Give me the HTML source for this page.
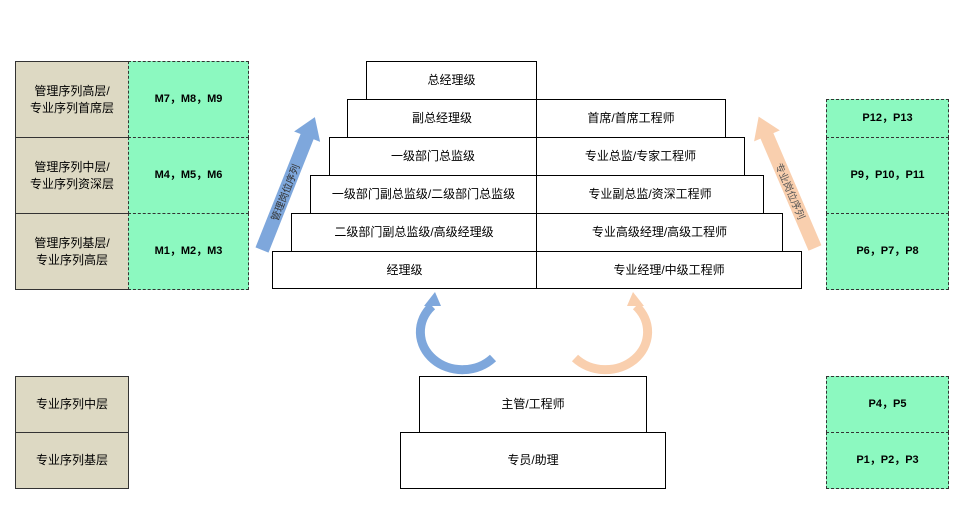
<!DOCTYPE html>
<html><head><meta charset="utf-8"><style>
body{margin:0;width:960px;height:505px;background:#fff;position:relative;overflow:hidden;font-family:"Liberation Sans","Noto Sans CJK SC",sans-serif;font-size:12px;color:#000}
.b{position:absolute;box-sizing:border-box;display:flex;align-items:center;justify-content:center;text-align:center;line-height:17px}
.k{border:1px solid #000;background:#fff}
.t{background:#ddd9c3;border:1px solid #333}
.g{background:#8cf9c0;border:1px dashed #333;font-weight:bold;font-size:11px}
</style></head><body>
<div class="b t" style="left:15px;top:61px;width:114px;height:77px">管理序列高层/<br>专业序列首席层</div>
<div class="b t" style="left:15px;top:137px;width:114px;height:77px">管理序列中层/<br>专业序列资深层</div>
<div class="b t" style="left:15px;top:213px;width:114px;height:77px">管理序列基层/<br>专业序列高层</div>
<div class="b g" style="left:128px;top:61px;width:121px;height:77px">M7，M8，M9</div>
<div class="b g" style="left:128px;top:137px;width:121px;height:77px">M4，M5，M6</div>
<div class="b g" style="left:128px;top:213px;width:121px;height:77px">M1，M2，M3</div>
<div class="b t" style="left:15px;top:376px;width:114px;height:57px">专业序列中层</div>
<div class="b t" style="left:15px;top:432px;width:114px;height:57px">专业序列基层</div>

<div class="b g" style="left:826px;top:99px;width:123px;height:39px">P12，P13</div>
<div class="b g" style="left:826px;top:137px;width:123px;height:77px">P9，P10，P11</div>
<div class="b g" style="left:826px;top:213px;width:123px;height:77px">P6，P7，P8</div>
<div class="b g" style="left:826px;top:376px;width:123px;height:57px">P4，P5</div>
<div class="b g" style="left:826px;top:432px;width:123px;height:57px">P1，P2，P3</div>

<div class="b k" style="left:366px;top:61px;width:171px;height:39px">总经理级</div>
<div class="b k" style="left:347px;top:99px;width:190px;height:39px">副总经理级</div>
<div class="b k" style="left:536px;top:99px;width:190px;height:39px">首席/首席工程师</div>
<div class="b k" style="left:329px;top:137px;width:208px;height:39px">一级部门总监级</div>
<div class="b k" style="left:536px;top:137px;width:209px;height:39px">专业总监/专家工程师</div>
<div class="b k" style="left:310px;top:175px;width:227px;height:39px">一级部门副总监级/二级部门总监级</div>
<div class="b k" style="left:536px;top:175px;width:228px;height:39px">专业副总监/资深工程师</div>
<div class="b k" style="left:291px;top:213px;width:246px;height:39px">二级部门副总监级/高级经理级</div>
<div class="b k" style="left:536px;top:213px;width:247px;height:39px">专业高级经理/高级工程师</div>
<div class="b k" style="left:272px;top:251px;width:265px;height:38px">经理级</div>
<div class="b k" style="left:536px;top:251px;width:266px;height:38px">专业经理/中级工程师</div>
<div class="b k" style="left:419px;top:376px;width:228px;height:57px">主管/工程师</div>
<div class="b k" style="left:400px;top:432px;width:266px;height:57px">专员/助理</div>

<svg width="960" height="505" style="position:absolute;left:0;top:0">
<g transform="translate(262,250) rotate(21.7)">
<polygon points="-7,0 -7,-122 -14,-122 0,-143 14,-122 7,-122 7,0" fill="#7ea7dc"/>
<text transform="translate(4,-62) rotate(-90)" font-size="10" text-anchor="middle" fill="#333" font-family="Liberation Sans,Noto Sans CJK SC,sans-serif">管理岗位序列</text>
</g>
<g transform="translate(815,248) rotate(-23.2)">
<polygon points="-7,0 -7,-122 -14,-122 0,-143 14,-122 7,-122 7,0" fill="#f9cfae"/>
<text transform="translate(-4,-62) rotate(90)" font-size="10" text-anchor="middle" fill="#555" font-family="Liberation Sans,Noto Sans CJK SC,sans-serif">专业岗位序列</text>
</g>
<path d="M493 358 A38 34 0 0 1 432 306" fill="none" stroke="#7ea7dc" stroke-width="9"/>
<polygon points="424,306 441,306 435,292" fill="#7ea7dc"/>
<path d="M575 358 A38 34 0 0 0 636 306" fill="none" stroke="#f9cfae" stroke-width="9"/>
<polygon points="627,306 644,306 633,292" fill="#f9cfae"/>
</svg>
</body></html>
